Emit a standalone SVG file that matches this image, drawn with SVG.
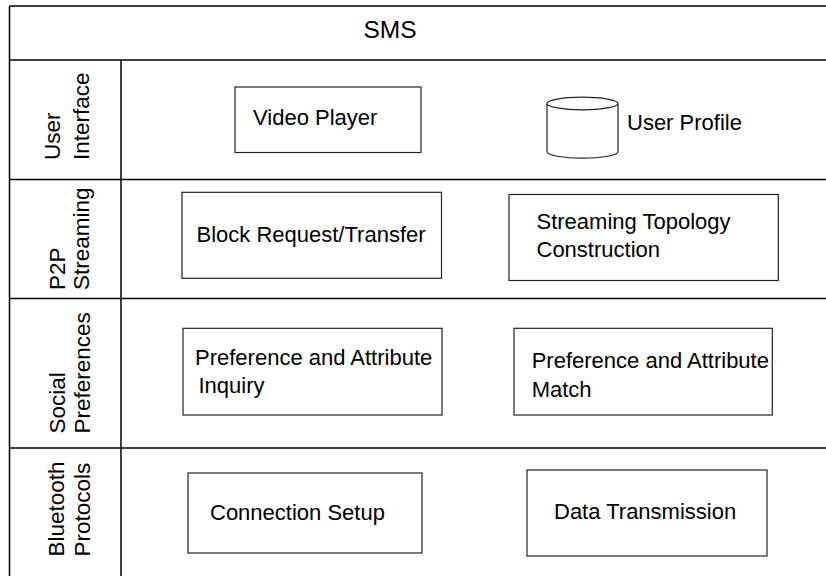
<svg xmlns="http://www.w3.org/2000/svg" width="826" height="576" viewBox="0 0 826 576">
  <style>
    .grid { stroke: #000; stroke-width: 1.5; fill: none; }
    .box { fill: #fff; stroke: #222; stroke-width: 1.2; }
    .t { font-family: "Liberation Sans", Arial, sans-serif; font-size: 22px; fill: #000; }
    .lane { font-family: "Liberation Sans", Arial, sans-serif; font-size: 22.5px; fill: #000; }
    .title { font-family: "Liberation Sans", Arial, sans-serif; font-size: 24.5px; fill: #000; }
  </style>
  <rect x="0" y="0" width="826" height="576" fill="#fff"/>

  <g id="table">
    <line class="grid" x1="9.5" y1="6" x2="826" y2="6"/>
    <line class="grid" x1="9.5" y1="6" x2="9.5" y2="576"/>
    <line class="grid" x1="9.5" y1="60" x2="826" y2="60"/>
    <line class="grid" x1="9.5" y1="179.5" x2="826" y2="179.5"/>
    <line class="grid" x1="9.5" y1="298.5" x2="826" y2="298.5"/>
    <line class="grid" x1="9.5" y1="448" x2="826" y2="448"/>
    <line class="grid" x1="121" y1="60" x2="121" y2="576"/>
  </g>

  <g id="title">
    <text class="title" x="390" y="37.5" text-anchor="middle">SMS</text>
  </g>

  <g id="lane-user-interface">
    <text class="lane" transform="rotate(-90 60 160)" x="60" y="160">User</text>
    <text class="lane" transform="rotate(-90 88.5 160)" x="88.5" y="160">Interface</text>
  </g>
  <g id="lane-p2p-streaming">
    <text class="lane" transform="rotate(-90 64.5 290)" x="64.5" y="290">P2P</text>
    <text class="lane" transform="rotate(-90 88.5 290)" x="88.5" y="290">Streaming</text>
  </g>
  <g id="lane-social-preferences">
    <text class="lane" transform="rotate(-90 65 433.5)" x="65" y="433.5">Social</text>
    <text class="lane" transform="rotate(-90 90 433.5)" x="90" y="433.5">Preferences</text>
  </g>
  <g id="lane-bluetooth-protocols">
    <text class="lane" transform="rotate(-90 63.5 556.5)" x="63.5" y="556.5">Bluetooth</text>
    <text class="lane" transform="rotate(-90 90 556.5)" x="90" y="556.5">Protocols</text>
  </g>

  <g id="video-player">
    <rect class="box" x="235" y="87" width="186" height="65.5"/>
    <text class="t" x="253" y="124.5">Video Player</text>
  </g>

  <g id="user-profile">
    <path class="box" d="M547,103.5 L547,151.7 A35.5,6.4 0 0 0 618,151.7 L618,103.5 A35.5,6.3 0 0 0 547,103.5 Z"/>
    <path class="box" fill="none" d="M547,103.5 A35.5,6.3 0 0 0 618,103.5"/>
    <text class="t" x="627" y="130">User Profile</text>
  </g>

  <g id="block-request">
    <rect class="box" x="182" y="192.3" width="259.5" height="86"/>
    <text class="t" x="196.5" y="242">Block Request/Transfer</text>
  </g>

  <g id="streaming-topology">
    <rect class="box" x="509" y="194.5" width="269.3" height="86"/>
    <text class="t" x="536.5" y="229">Streaming Topology</text>
    <text class="t" x="536.5" y="257.3">Construction</text>
  </g>

  <g id="preference-inquiry">
    <rect class="box" x="183" y="328.3" width="259" height="86.7"/>
    <text class="t" x="195" y="364.5">Preference and Attribute</text>
    <text class="t" x="198.5" y="392.7">Inquiry</text>
  </g>

  <g id="preference-match">
    <rect class="box" x="514" y="328.3" width="258.3" height="86.7"/>
    <text class="t" x="531.7" y="368.3">Preference and Attribute</text>
    <text class="t" x="531.7" y="396.7">Match</text>
  </g>

  <g id="connection-setup">
    <rect class="box" x="188" y="473" width="234" height="80"/>
    <text class="t" x="210" y="520">Connection Setup</text>
  </g>

  <g id="data-transmission">
    <rect class="box" x="527" y="470" width="240" height="86"/>
    <text class="t" x="554" y="519">Data Transmission</text>
  </g>

  <g id="connectors"></g>
</svg>
